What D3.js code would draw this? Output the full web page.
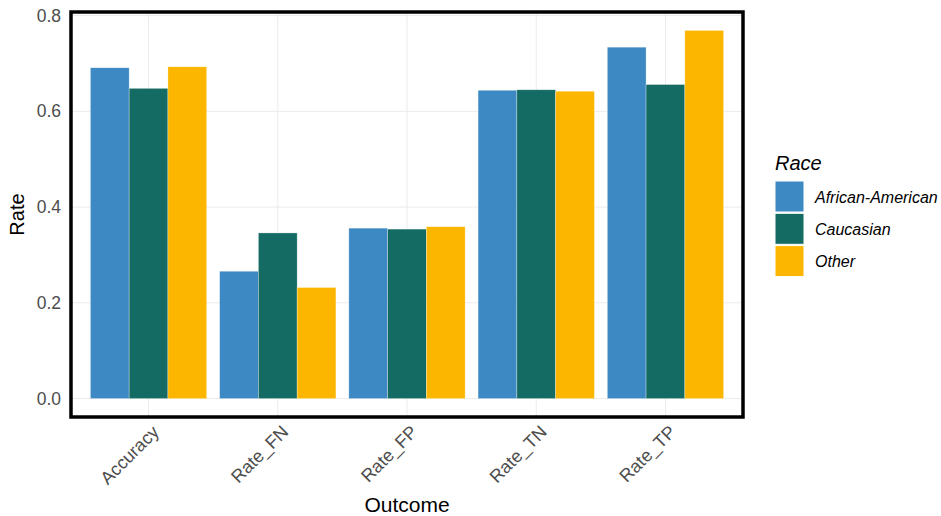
<!DOCTYPE html>
<html>
<head>
<meta charset="utf-8">
<script src="https://cdn.jsdelivr.net/npm/d3@7"></script>
<style>
  body { margin: 0; background: #fff; }
  svg { font-family: "Liberation Sans", Arial, Helvetica, sans-serif; }
</style>
</head>
<body>
<div id="chart"></div>
<script>
// data
const outcomes = ["Accuracy", "Rate_FN", "Rate_FP", "Rate_TN", "Rate_TP"];
const races = ["African-American", "Caucasian", "Other"];
const africanAmerican = [0.691, 0.266, 0.356, 0.644, 0.734];
const caucasian = [0.648, 0.346, 0.354, 0.645, 0.656];
const other = [0.693, 0.232, 0.359, 0.642, 0.769];
const yTicks = [0, 0.2, 0.4, 0.6, 0.8];
const colors = ["#3D89C3", "#136B63", "#FDB600"];

const seriesValues = [africanAmerican, caucasian, other];
const rows = [];
outcomes.forEach((o, i) => {
    races.forEach((r, j) => rows.push({ outcome: o, race: r, value: seriesValues[j][i] }));
});

const W = 941, H = 516;
// panel box
const margin = { top: 12, right: 198, bottom: 99, left: 71 },
    width = W - margin.left - margin.right,
    height = H - margin.top - margin.bottom;

const svg = d3.select("#chart")
  .append("svg")
    .attr("width", W)
    .attr("height", H);

const g = svg.append("g")
    .attr("transform", `translate(${margin.left},${margin.top})`);

// ggplot-like discrete scale: 0.6 expansion each side
const step = width / (outcomes.length - 1 + 1.2);
const x = d3.scalePoint()
    .domain(outcomes)
    .range([0.6 * step, width - 0.6 * step]);

const ymax = d3.max(seriesValues.flat());
const y = d3.scaleLinear()
    .domain([-0.05 * ymax, ymax * 1.05])
    .range([height, 0]);

const xSub = d3.scaleBand()
    .domain(races)
    .range([-0.45 * step, 0.45 * step]);

const color = d3.scaleOrdinal().domain(races).range(colors);

// grid
g.append("g")
  .selectAll("line")
  .data(yTicks)
  .join("line")
    .attr("x1", 0).attr("x2", width)
    .attr("y1", d => y(d)).attr("y2", d => y(d))
    .attr("stroke", "#EBEBEB").attr("stroke-width", 1);
g.append("g")
  .selectAll("line")
  .data(outcomes)
  .join("line")
    .attr("x1", d => x(d)).attr("x2", d => x(d))
    .attr("y1", 0).attr("y2", height)
    .attr("stroke", "#EBEBEB").attr("stroke-width", 1);

// bars
g.append("g")
  .selectAll("rect")
  .data(rows)
  .join("rect")
    .attr("x", d => x(d.outcome) + xSub(d.race))
    .attr("y", d => y(d.value))
    .attr("width", xSub.bandwidth())
    .attr("height", d => y(0) - y(d.value))
    .attr("fill", d => color(d.race))
    .attr("stroke", "#fff")
    .attr("stroke-opacity", 0.5)
    .attr("stroke-width", 0.6);

// panel border
g.append("rect")
    .attr("x", 0).attr("y", 0)
    .attr("width", width).attr("height", height)
    .attr("fill", "none")
    .attr("stroke", "#000")
    .attr("stroke-width", 3.5);

// y axis
const yAxis = g.append("g")
    .call(d3.axisLeft(y).tickValues(yTicks).tickFormat(d3.format(".1f")).tickSize(0).tickPadding(10));
yAxis.select(".domain").remove();
yAxis.selectAll("text")
    .attr("fill", "#4D4D4D")
    .style("font-size", "17.5px");

// x axis
const xAxis = g.append("g")
    .attr("transform", `translate(0,${height})`)
    .call(d3.axisBottom(x).tickSize(0));
xAxis.select(".domain").remove();
xAxis.selectAll("text")
    .attr("fill", "#4D4D4D")
    .style("font-size", "18px")
    .style("text-anchor", "end")
    .attr("dy", 0)
    .attr("transform", "translate(9,14)rotate(-45)");

// titles
svg.append("text")
    .attr("transform", `translate(24,${margin.top + height / 2})rotate(-90)`)
    .attr("text-anchor", "middle")
    .style("font-size", "20px")
    .text("Rate");

svg.append("text")
    .attr("x", margin.left + width / 2)
    .attr("y", 512)
    .attr("text-anchor", "middle")
    .style("font-size", "21px")
    .text("Outcome");

// legend
const legend = svg.append("g").attr("transform", "translate(775,0)");
legend.append("text")
    .attr("x", 0).attr("y", 170)
    .style("font-size", "20px")
    .style("font-style", "italic")
    .text("Race");

const key = legend.selectAll("g.key")
  .data(races)
  .join("g")
    .attr("class", "key")
    .attr("transform", (d, i) => `translate(0,${181 + i * 32.3})`);
key.append("rect")
    .attr("width", 29).attr("height", 31)
    .attr("fill", d => color(d))
    .attr("stroke", "#fff")
    .attr("stroke-width", 1);
key.append("text")
    .attr("x", 40).attr("y", 16)
    .attr("dy", "0.35em")
    .style("font-size", "16px")
    .style("font-style", "italic")
    .text(d => d);
</script>
</body>
</html>
